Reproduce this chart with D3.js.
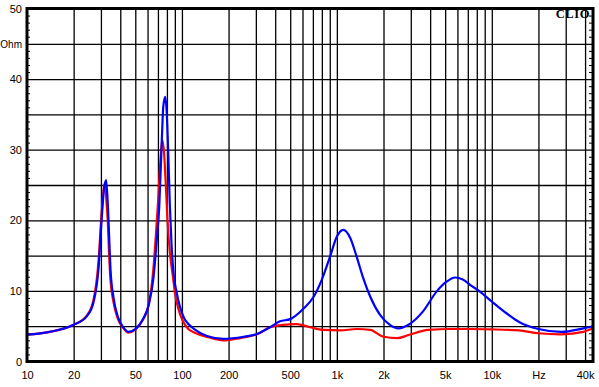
<!DOCTYPE html>
<html>
<head>
<meta charset="utf-8">
<script src="https://cdn.jsdelivr.net/npm/d3@7"></script>
<style>
	body { margin: 0; background: #fff; }
	text { font-family: "Liberation Sans", Arial, sans-serif; font-size: 11px; fill: #000; }
</style>
</head>
<body>
<svg id="chart" width="599" height="387"></svg>
<script>
/////////////////
// "CONSTANTS" //
/////////////////
var WIDTH = 599;
var HEIGHT = 387;
var LEFT = 27, RIGHT = 593, TOP = 8.5, BOTTOM = 361.5;
var FREQ_MIN = 10, FREQ_MAX = 45000;
var OHM_MAX = 50;

//////////
// DATA //
//////////
var xTickValues = [10, 20, 50, 100, 200, 500, 1000, 2000, 5000, 10000, 20000, 40000];
var xTickLabels = ["10", "20", "50", "100", "200", "500", "1k", "2k", "5k", "10k", "Hz", "40k"];
var yTickValues = [0, 10, 20, 30, 40, 45, 50];
var yTickLabels = ["0", "10", "20", "30", "40", "Ohm", "50"];

// blue curve (impedance magnitude)
var blueFreq = [10, 14, 20, 24.3, 26.8, 28.9, 30.3, 31.4, 32.4, 33.2, 33.9, 34.6, 36.1, 38.5, 42, 45, 50, 56, 61, 65.6, 68.8, 71.4, 73.9, 75.8, 77.9, 79.8, 81.6, 83.6, 85.8, 88.8, 92, 97, 103, 110, 120, 145, 185, 250, 305, 370, 430, 500, 610, 710, 800, 905, 1000, 1100, 1220, 1340, 1480, 1640, 1900, 2200, 2500, 2900, 3600, 4400, 5100, 5800, 6500, 7200, 8500, 10000, 12500, 15000, 20000, 28000, 39000, 45000];
var blueOhm  = [3.8, 4.2, 5.2, 6.4, 8.3, 13, 20, 24.4, 25.7, 22.5, 17.7, 13, 9.2, 6.4, 4.8, 4.2, 4.6, 6.0, 8.0, 12, 17.2, 22, 30.5, 36.1, 37.5, 35.2, 29.5, 22, 16.3, 12, 10, 7.8, 6.2, 5.3, 4.6, 3.6, 3.2, 3.5, 3.9, 4.85, 5.7, 6.0, 7.5, 9.2, 11.6, 14.9, 17.7, 18.65, 17.5, 14.9, 11.8, 9.2, 6.6, 5.2, 4.7, 5.2, 7.1, 9.9, 11.3, 11.9, 11.6, 10.9, 9.8, 8.5, 6.8, 5.6, 4.6, 4.2, 4.7, 5.0];

// red curve
var redFreq = [10, 14, 20, 24.3, 26.8, 28.9, 30.3, 31.4, 31.9, 32.6, 33.2, 33.9, 34.6, 36.1, 38.5, 42, 45, 50, 56, 61, 65.6, 67.8, 70.5, 72.9, 74.7, 76.7, 78.4, 80.7, 83.6, 87.5, 90, 95, 101, 110, 120, 150, 185, 200, 250, 305, 370, 450, 550, 670, 820, 1050, 1340, 1640, 2000, 2450, 2900, 3900, 5300, 7200, 10000, 15000, 20000, 28000, 39000, 45000];
var redOhm  = [3.8, 4.2, 5.2, 6.5, 8.6, 14, 21, 24.8, 25.2, 22.5, 20, 15, 11.5, 8.5, 6.1, 4.7, 4.1, 4.5, 5.9, 8.0, 13.4, 17.7, 23.4, 29, 31.4, 29.5, 25.7, 20, 15.4, 12, 9.8, 7.4, 5.8, 4.6, 4.1, 3.4, 3.0, 3.05, 3.4, 3.85, 4.85, 5.2, 5.3, 4.85, 4.47, 4.4, 4.6, 4.47, 3.5, 3.3, 3.75, 4.47, 4.6, 4.6, 4.55, 4.4, 4.0, 3.85, 4.2, 4.7];

/////////////
// SCALES  //
/////////////
var svg = d3.select("#chart");
var x = d3.scaleLog().domain([FREQ_MIN, FREQ_MAX]).range([LEFT, RIGHT]);
var y = d3.scaleLinear().domain([0, OHM_MAX]).range([BOTTOM, TOP]);

// vertical grid: every 1..9 multiple of each decade
var gridFreq = [];
[10, 100, 1000, 10000].forEach(function(dec) {
	for (var m = 1; m <= 9; m++) {
		var f = dec * m;
		if (f > FREQ_MIN && f < FREQ_MAX) gridFreq.push(f);
	}
});
svg.append("g")
	.attr("transform", "translate(0," + BOTTOM + ")")
	.call(d3.axisBottom(x).tickValues(gridFreq).tickSize(-(BOTTOM - TOP)).tickFormat(""))
	.call(function(g) { g.select(".domain").remove(); })
	.selectAll("line").attr("stroke", "#000").attr("stroke-width", 1.3);

// horizontal grid every 5 Ohm
svg.append("g")
	.attr("transform", "translate(" + LEFT + ",0)")
	.call(d3.axisLeft(y).tickValues(d3.range(5, 50, 5)).tickSize(-(RIGHT - LEFT)).tickFormat(""))
	.call(function(g) { g.select(".domain").remove(); })
	.selectAll("line").attr("stroke", "#000").attr("stroke-width", 1.3);

// minor ticks every 1 Ohm on both sides
var minor = d3.range(1, 50).filter(function(v) { return v % 5 != 0; });
svg.append("g")
	.attr("transform", "translate(" + LEFT + ",0)")
	.call(d3.axisRight(y).tickValues(minor).tickSize(3).tickFormat(""))
	.call(function(g) { g.select(".domain").remove(); })
	.selectAll("line").attr("stroke", "#000");
svg.append("g")
	.attr("transform", "translate(" + RIGHT + ",0)")
	.call(d3.axisLeft(y).tickValues(minor).tickSize(4).tickFormat(""))
	.call(function(g) { g.select(".domain").remove(); })
	.selectAll("line").attr("stroke", "#000");

// curves
var line = d3.line()
	.x(function(d) { return x(d[0]); })
	.y(function(d) { return y(d[1]); })
	.curve(d3.curveMonotoneX);

svg.append("path")
	.datum(d3.zip(redFreq, redOhm))
	.attr("fill", "none")
	.attr("stroke", "#ff0000")
	.attr("stroke-width", 2.2)
	.attr("d", line);
svg.append("path")
	.datum(d3.zip(blueFreq, blueOhm))
	.attr("fill", "none")
	.attr("stroke", "#0000ff")
	.attr("stroke-width", 2.2)
	.attr("d", line);

// frame
svg.append("rect")
	.attr("x", LEFT).attr("y", TOP)
	.attr("width", RIGHT - LEFT).attr("height", BOTTOM - TOP)
	.attr("fill", "none").attr("stroke", "#000").attr("stroke-width", 3);

// x labels
var xAxis = d3.axisBottom(x).tickValues(xTickValues).tickSize(0)
	.tickFormat(function(d, i) { return xTickLabels[i]; });
svg.append("g")
	.attr("transform", "translate(0," + (BOTTOM + 7) + ")")
	.call(xAxis)
	.call(function(g) { g.select(".domain").remove(); })
	.selectAll("text").style("font-size", "11px").style("font-family", "'Liberation Sans', Arial, sans-serif").attr("fill", "#000");

// y labels
var yAxis = d3.axisLeft(y).tickValues(yTickValues).tickSize(0)
	.tickFormat(function(d, i) { return yTickLabels[i]; });
svg.append("g")
	.attr("transform", "translate(" + (LEFT - 2) + ",0)")
	.call(yAxis)
	.call(function(g) { g.select(".domain").remove(); })
	.selectAll("text").style("font-size", function(d) { return d == 45 ? "10px" : "11px"; })
	.style("font-family", "'Liberation Sans', Arial, sans-serif").attr("fill", "#000");

// CLIO logo
svg.append("text")
	.attr("x", 590).attr("y", 18)
	.attr("text-anchor", "end")
	.style("font-family", "'Liberation Serif', 'DejaVu Serif', serif")
	.style("font-weight", "bold")
	.style("font-size", "12.5px")
	.style("letter-spacing", "0.6px")
	.text("CLIO");
</script>
</body>
</html>
